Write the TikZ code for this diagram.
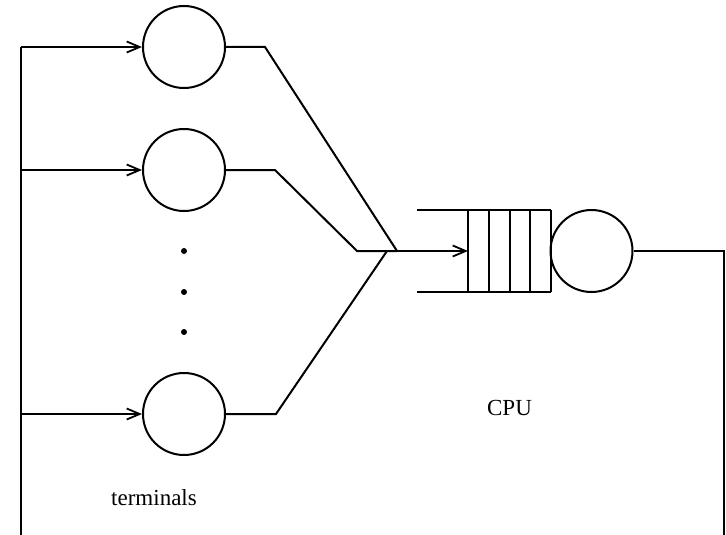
\documentclass[tikz,border=0pt]{standalone}
\usepackage{fontspec}
\setmainfont{Liberation Serif}
\usetikzlibrary{arrows.meta}
\begin{document}
\begin{tikzpicture}[x=1pt,y=-1pt,
  ln/.style={line width=2pt,line join=miter},
  srv/.style={circle,draw,line width=2pt,minimum size=82pt,inner sep=0pt},
  arr/.style={-{Straight Barb[length=13pt,width=11pt,line width=1.8pt]}},
  lbl/.style={font=\fontsize{23}{27}\selectfont,inner sep=0pt},
  dot/.style={circle,fill,inner sep=0pt,minimum size=6pt}]
\useasboundingbox (0,0) rectangle (726,535);
\clip (0,0) rectangle (726,535);
% terminals
\node[srv] (t1) at (184,47) {};
\node[srv] (t2) at (184,170) {};
\node[srv] (t3) at (184,414) {};
\node[dot] (d1) at (184,251) {};
\node[dot] (d2) at (184,292) {};
\node[dot] (d3) at (184,332) {};
% queue and CPU
\node[srv] (cpu) at (591.5,251) {};
\coordinate (qtl) at (417,210);
\coordinate (qbl) at (417,292);
\coordinate (qtr) at (551,210);
\coordinate (qbr) at (551,292);
\draw[ln] (qtl) -- (qtr);
\draw[ln] (qbl) -- (qbr);
\foreach \x in {468,489,509.5,530,551}
  \draw[ln] (\x,210) -- (\x,292);
\coordinate (qin) at (468,251);
% merge
\coordinate (m) at (397,251);
\coordinate (b1) at (265,47);
\coordinate (b2) at (275,170);
\coordinate (b2b) at (357,251);
\coordinate (b3) at (276,414);
\coordinate (m3) at (387,251);
\draw[ln] (t1.east) -- (b1) -- (m);
\draw[ln] (t2.east) -- (b2) -- (b2b) -- (m);
\draw[ln] (t3.east) -- (b3) -- (m3);
\draw[ln,arr] (m) -- (qin);
% feedback loop
\coordinate (r1) at (724,251);
\coordinate (r2) at (724,545);
\coordinate (l2) at (21,545);
\coordinate (l1) at (21,47);
\coordinate (l3) at (21,170);
\coordinate (l4) at (21,414);
\draw[ln] (cpu.east) -- (r1) -- (r2) -- (l2) -- (l1);
\draw[ln,arr] (l1) -- (t1.west);
\draw[ln,arr] (l3) -- (t2.west);
\draw[ln,arr] (l4) -- (t3.west);
% labels
\node[lbl] (cpul) at (509.5,408) {CPU};
\node[lbl] (terml) at (154,498) {terminals};
\end{tikzpicture}
\end{document}
